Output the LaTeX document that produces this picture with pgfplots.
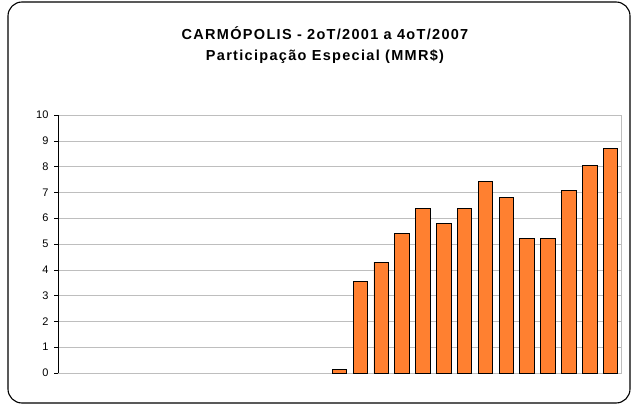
\documentclass[border=0pt]{standalone}
\usepackage{pgfplots}
\pgfplotsset{compat=1.18}
\usepackage{fontspec}
\setmainfont{Liberation Sans}
\definecolor{barorange}{RGB}{255,128,48}
\definecolor{gridgray}{RGB}{190,190,190}
\begin{document}
\begin{tikzpicture}
\path[use as bounding box] (0pt,0pt) rectangle (635pt,405pt);
\draw[line width=1.1pt, rounded corners=14pt] (8pt,2pt) rectangle (630pt,403pt);
\node[font=\bfseries\fontsize{14.5}{16}\selectfont\addfontfeature{LetterSpace=9}] at (325pt,372pt) {CARMÓPOLIS - 2oT/2001 a 4oT/2007};
\node[font=\bfseries\fontsize{14.5}{16}\selectfont\addfontfeature{LetterSpace=9}] at (325pt,348pt) {Participação Especial (MMR\$)};
\begin{axis}[
  at={(58pt,32pt)}, anchor=south west,
  scale only axis, width=563pt, height=258pt,
  xmin=-0.5, xmax=26.5, ymin=0, ymax=10,
  xtick=\empty,
  ytick={0,1,...,10},
  ytick pos=left,
  tick align=outside,
  major tick length=4pt,
  ytick style={black, line width=0.6pt},
  ymajorgrids,
  grid style={gridgray, line width=0.6pt},
  axis line style={gridgray, line width=0.8pt},
  /pgf/number format/assume math mode=true,
  yticklabel style={font=\fontsize{11}{13}\selectfont, xshift=-2pt},
  ybar, bar width=14.5pt,
]
\addplot[fill=barorange, draw=black, line width=0.9pt] coordinates {
(13,0.13) (14,3.56) (15,4.30) (16,5.41) (17,6.38) (18,5.78) (19,6.38)
(20,7.43) (21,6.81) (22,5.23) (23,5.23) (24,7.07) (25,8.03) (26,8.71)
};
\draw[black, line width=0.9pt] (rel axis cs:0,0) -- (rel axis cs:0,1);
\end{axis}
\end{tikzpicture}
\end{document}
